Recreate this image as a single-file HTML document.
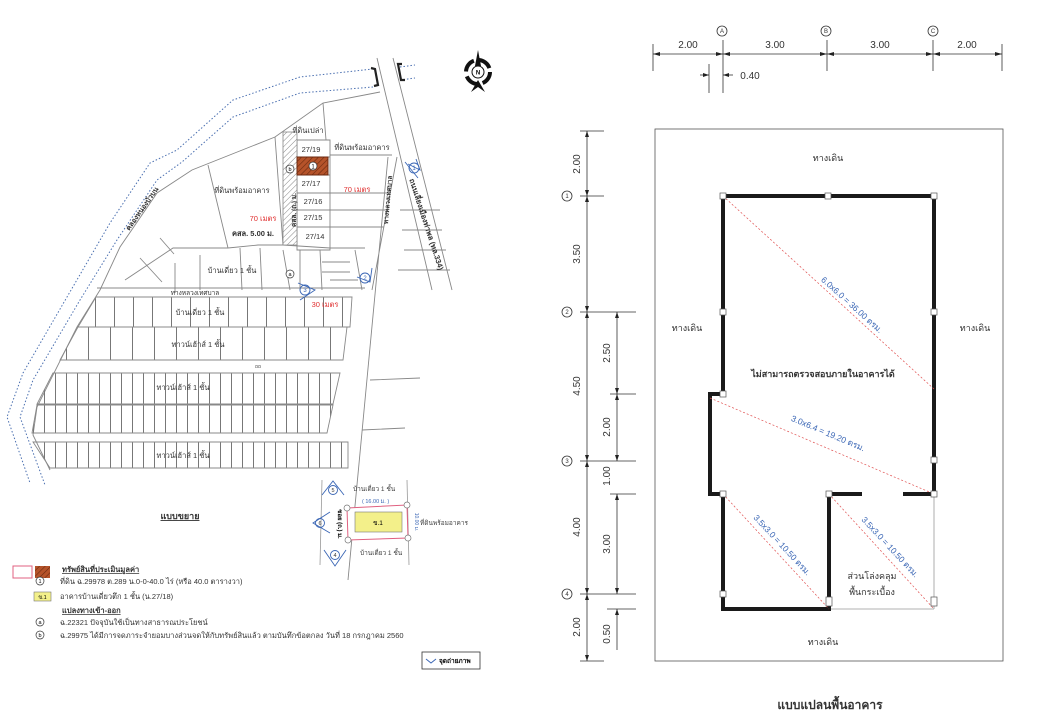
<!DOCTYPE html>
<html><head><meta charset="utf-8"><style>
html,body{margin:0;padding:0;background:#fff;}
svg{display:block;font-family:"Liberation Sans","Noto Sans CJK SC",sans-serif;}
</style></head><body>
<svg width="1040" height="720" viewBox="0 0 1040 720" xmlns="http://www.w3.org/2000/svg">
<defs>
<pattern id="v19" width="19" height="40" patternUnits="userSpaceOnUse"><line x1="0.5" y1="0" x2="0.5" y2="40" stroke="#777" stroke-width="1"/></pattern>
<pattern id="v22" width="22" height="40" patternUnits="userSpaceOnUse"><line x1="0.5" y1="0" x2="0.5" y2="40" stroke="#777" stroke-width="1"/></pattern>
<pattern id="v11" width="11" height="40" patternUnits="userSpaceOnUse"><line x1="0.5" y1="0" x2="0.5" y2="40" stroke="#777" stroke-width="1"/></pattern>
<pattern id="hatch" width="4" height="4" patternUnits="userSpaceOnUse" patternTransform="rotate(45)"><rect width="4" height="4" fill="#fff"/><line x1="0" y1="0" x2="0" y2="4" stroke="#888" stroke-width="1"/></pattern>
<pattern id="rhatch" width="4" height="4" patternUnits="userSpaceOnUse" patternTransform="rotate(45)"><rect width="4" height="4" fill="#b5532a"/><line x1="0" y1="0" x2="0" y2="4" stroke="#6b2a10" stroke-width="1.2"/></pattern>
</defs>

<!-- ============ LEFT SITE PLAN ============ -->
<g fill="none" stroke="#4a6fb0" stroke-width="1" stroke-dasharray="1.5,2">
<path d="M373,69 L300,77 L233,100 L177,150 L150,163 L110,223 L67,297 L23,373 L7,417 L30,483"/>
<path d="M373,87 L300,93 L233,117 L182,162 L157,180 L117,240 L80,300 L33,380 L20,417 L45,485"/>
<path d="M400,67 L415,65 M400,80 L415,78"/>
</g>
<g fill="none" stroke="#888" stroke-width="0.9">
<path d="M380,92 L323,103 L275,137 L192,170 L157,193 L120,247 L100,290 L77,327 L37,407 L33,435 L50,470"/>
<path d="M377,58 L432,290 M393,58 L452,290"/>
<path d="M388,157 L348,580 M397,157 L372,290"/>
<path d="M275,137 L283,245 M323,103 L326,140 M208,165 L228,248"/>
<path d="M228,248 L258,245 L283,245 L330,248 L365,248"/>
<path d="M125,280 L173,248 L228,248 M140,258 L162,282 M160,238 L174,254 M175,263 L175,293 M200,255 L200,290 M240,248 L242,290 M260,248 L262,290"/>
<path d="M297,140 L330,140 L330,250 L297,250 Z M297,157 L330,157 M297,175 L330,175 M297,193 L330,193 M297,210 L330,210 M297,227 L330,227"/>
<path d="M330,193 L388,193 M330,210 L385,210 M330,227 L384,227 M330,155 L392,155"/>
<path d="M283,250 L290,290 M300,250 L300,290 M320,250 L322,290 M322,262 L350,262 M322,272 L350,272 M330,280 L358,280 M355,250 L362,290"/>
<path d="M400,210 L440,210 M402,230 L442,230 M404,250 L446,250 M398,270 L450,270 M370,380 L420,378 M362,430 L405,428"/>
<path d="M97,288 L365,288"/>
<polygon points="96,297 352,297 350,327 78,327" fill="url(#v19)"/>
<polygon points="78,327 347,327 343,360 60,360" fill="url(#v22)"/>
<polygon points="53,373 340,373 333,404 37,404" fill="url(#v11)"/>
<polygon points="37,405 333,405 327,433 32,433" fill="url(#v11)"/>
<polygon points="33,442 348,442 348,468 50,468" fill="url(#v11)"/>
</g>
<rect x="283" y="132" width="14" height="113" fill="url(#hatch)" stroke="#888" stroke-width="0.8"/>
<rect x="297" y="157" width="31" height="18" fill="url(#rhatch)" stroke="#6b2a10"/>
<circle cx="313" cy="166" r="4" fill="#fff" stroke="#333" stroke-width="0.7"/><text x="313" y="168.5" font-size="6" text-anchor="middle">1</text>
<g fill="none" stroke="#222" stroke-width="2.2"><path d="M371,68 L375,69 L378,85 L374,86"/><path d="M402,64 L398,64 L401,80 L405,80"/></g>
<g font-size="7.5" fill="#333" text-anchor="middle">
<text x="308" y="133">ที่ดินเปล่า</text>
<text x="311" y="152">27/19</text><text x="311" y="186">27/17</text><text x="313" y="204">27/16</text><text x="313" y="220">27/15</text><text x="315" y="239">27/14</text>
<text x="362" y="150">ที่ดินพร้อมอาคาร</text><text x="242" y="193">ที่ดินพร้อมอาคาร</text>
<text x="253" y="236" font-weight="bold">คสล. 5.00 ม.</text>
<text x="232" y="273">บ้านเดี่ยว 1 ชั้น</text>
<text x="195" y="295" font-size="6.5">ทางหลวงเทศบาล</text>
<text x="200" y="315">บ้านเดี่ยว 1 ชั้น</text>
<text x="198" y="347">ทาวน์เฮ้าส์ 1 ชั้น</text>
<text x="183" y="390">ทาวน์เฮ้าส์ 1 ชั้น</text>
<text x="183" y="458">ทาวน์เฮ้าส์ 1 ชั้น</text>
<text x="258" y="368" font-size="5">ถถ</text>
</g>
<g font-size="7.5" fill="#e03030" text-anchor="middle"><text x="357" y="192">70 เมตร</text><text x="263" y="221">70 เมตร</text><text x="325" y="307">30 เมตร</text></g>
<text transform="translate(144,210) rotate(-55)" font-size="7" font-weight="bold" fill="#333" text-anchor="middle">คลองหนองบัวบน</text>
<text transform="translate(424,225) rotate(72)" font-size="7.5" font-weight="bold" fill="#333" text-anchor="middle">ถนนเลี่ยงเมืองท่าพล (ทล.334)</text>
<text transform="translate(390,200) rotate(-85)" font-size="6.5" font-weight="bold" fill="#333" text-anchor="middle">ทางหลวงเทศบาล</text>
<text transform="translate(296,210) rotate(-90)" font-size="6.5" font-weight="bold" fill="#333" text-anchor="middle">คสล. (ถ.) ม.</text>
<g fill="#fff" stroke="#333" stroke-width="0.7"><circle cx="290" cy="169" r="4"/><circle cx="290" cy="274" r="4"/></g>
<g font-size="5.5" text-anchor="middle"><text x="290" y="171">b</text><text x="290" y="276">a</text></g>
<g fill="none" stroke="#3a66b5" stroke-width="0.9">
<path d="M408,164 L420,170 L416,159 M405,162 L418,178"/><circle cx="414" cy="168" r="5"/>
<circle cx="365" cy="278" r="5"/><path d="M357,277 L370,282 L372,268"/>
<circle cx="305" cy="290" r="5"/><path d="M298,283 L315,290 L300,300"/>
</g>
<g font-size="6" fill="#3a66b5" text-anchor="middle"><text x="414" y="170">1</text><text x="365" y="280">2</text><text x="305" y="292">3</text></g>
<g transform="translate(478,72)"><circle r="12" fill="none" stroke="#111" stroke-width="4" stroke-dasharray="14,5"/><circle r="6" fill="#fff" stroke="#111"/><path d="M0,-22 L3,-6 L-3,-6 Z M-7,20 L0,8 L7,20 L0,15 Z" fill="#111"/><text y="2.5" font-size="6" text-anchor="middle" font-weight="bold">N</text></g>

<text x="180" y="519" font-size="9" font-weight="bold" fill="#333" text-anchor="middle" text-decoration="underline">แบบขยาย</text>
<g fill="none" stroke="#999" stroke-width="0.8"><line x1="322" y1="480" x2="320" y2="565"/><line x1="407" y1="480" x2="409" y2="565"/></g>
<polygon points="347,508 407,505 408,538 348,540" fill="#fff" stroke="#e06080" stroke-width="1"/>
<rect x="355" y="512" width="47" height="20" fill="#f3f08a" stroke="#777" stroke-width="0.6"/>
<text x="378" y="525" font-size="6.5" text-anchor="middle">ข.1</text>
<g fill="#fff" stroke="#777" stroke-width="0.7"><circle cx="347" cy="508" r="3"/><circle cx="407" cy="505" r="3"/><circle cx="348" cy="540" r="3"/><circle cx="408" cy="538" r="3"/></g>
<g font-size="6.5" fill="#444"><text x="353" y="491">บ้านเดี่ยว 1 ชั้น</text><text x="360" y="555">บ้านเดี่ยว 1 ชั้น</text><text x="420" y="525">ที่ดินพร้อมอาคาร</text><text x="362" y="503" fill="#3a66b5" font-size="5.5">( 16.00 ม. )</text></g>
<text transform="translate(338,524) rotate(90)" font-size="6" font-weight="bold" text-anchor="middle">ซอย (ถ.) ม.</text>
<text transform="translate(415,522) rotate(90)" font-size="5" fill="#3a66b5" text-anchor="middle">10.00 ม.</text>
<g fill="none" stroke="#3a66b5" stroke-width="0.9"><circle cx="333" cy="490" r="4.5"/><path d="M322,495 L333,481 L344,495"/><circle cx="320" cy="523" r="4.5"/><path d="M330,512 L313,523 L330,533"/><circle cx="335" cy="555" r="4.5"/><path d="M324,550 L335,566 L346,550"/></g>
<g font-size="5.5" fill="#333" text-anchor="middle"><text x="333" y="492">5</text><text x="320" y="525">6</text><text x="335" y="557">4</text></g>

<rect x="13" y="566" width="19" height="12" fill="#fff" stroke="#e06080"/>
<rect x="35" y="566" width="15" height="12" fill="url(#rhatch)"/>
<g font-size="7.5" fill="#333">
<text x="62" y="572" font-weight="bold" text-decoration="underline">ทรัพย์สินที่ประเมินมูลค่า</text>
<text x="60" y="584">ที่ดิน ฉ.29978 ต.289 น.0-0-40.0 ไร่ (หรือ 40.0 ตารางวา)</text>
<text x="60" y="599">อาคารบ้านเดี่ยวตึก 1 ชั้น (น.27/18)</text>
<text x="62" y="613" font-weight="bold" text-decoration="underline">แปลงทางเข้า-ออก</text>
<text x="60" y="625">ฉ.22321 ปัจจุบันใช้เป็นทางสาธารณประโยชน์</text>
<text x="60" y="638">ฉ.29975 ได้มีการจดภาระจำยอมบางส่วนจดให้กับทรัพย์สินแล้ว ตามบันทึกข้อตกลง วันที่ 18 กรกฎาคม 2560</text>
</g>
<g fill="#fff" stroke="#333" stroke-width="0.7"><circle cx="40" cy="581" r="4"/><circle cx="40" cy="622" r="4"/><circle cx="40" cy="635" r="4"/></g>
<g font-size="5.5" text-anchor="middle"><text x="40" y="583">1</text><text x="40" y="624">a</text><text x="40" y="637">b</text></g>
<rect x="34" y="592" width="17" height="9" fill="#f3f08a" stroke="#777" stroke-width="0.6"/><text x="42.5" y="599" font-size="5.5" text-anchor="middle">ข.1</text>
<rect x="422" y="652" width="58" height="17" fill="#fff" stroke="#333" stroke-width="0.8"/>
<path d="M426,659 L431,663 L436,659" fill="none" stroke="#3a66b5"/>
<text x="439" y="663" font-size="6.5" font-weight="bold">จุดถ่ายภาพ</text>

<!-- ============ RIGHT FLOOR PLAN ============ -->
<g stroke="#333" stroke-width="0.8" fill="none">
<line x1="653" y1="54" x2="1002" y2="54"/>
<line x1="653" y1="44" x2="653" y2="71"/><line x1="723" y1="40" x2="723" y2="93"/><line x1="827" y1="40" x2="827" y2="71"/><line x1="933" y1="40" x2="933" y2="71"/><line x1="1002" y1="44" x2="1002" y2="71"/>
<line x1="709" y1="64" x2="709" y2="93"/>
<line x1="700" y1="75" x2="709" y2="75"/><line x1="723" y1="75" x2="733" y2="75"/>
<rect x="655" y="129" width="348" height="532" stroke="#555"/>
<line x1="587" y1="131" x2="587" y2="661"/>
<line x1="580" y1="131" x2="604" y2="131"/><line x1="580" y1="196" x2="604" y2="196"/><line x1="580" y1="312" x2="636" y2="312"/><line x1="580" y1="461" x2="636" y2="461"/><line x1="580" y1="594" x2="636" y2="594"/><line x1="580" y1="661" x2="604" y2="661"/>
<line x1="617" y1="312" x2="617" y2="461"/><line x1="610" y1="394" x2="636" y2="394"/>
<line x1="617" y1="494" x2="617" y2="594"/><line x1="610" y1="494" x2="636" y2="494"/>
<line x1="617" y1="609" x2="617" y2="650"/><line x1="607" y1="609" x2="636" y2="609"/>
</g>
<g fill="#222">
<path d="M653,54 l7,-2 v4z M723,54 l-7,-2 v4z M723,54 l7,-2 v4z M827,54 l-7,-2 v4z M827,54 l7,-2 v4z M933,54 l-7,-2 v4z M933,54 l7,-2 v4z M1002,54 l-7,-2 v4z"/>
<path d="M709,75 l-6,-2 v4z M723,75 l6,-2 v4z"/>
<path d="M587,131 l-2,6 h4z M587,196 l-2,-6 h4z M587,196 l-2,6 h4z M587,312 l-2,-6 h4z M587,312 l-2,6 h4z M587,461 l-2,-6 h4z M587,461 l-2,6 h4z M587,594 l-2,-6 h4z M587,594 l-2,6 h4z M587,661 l-2,-6 h4z"/>
<path d="M617,312 l-2,6 h4z M617,394 l-2,-6 h4z M617,394 l-2,6 h4z M617,461 l-2,-6 h4z M617,494 l-2,6 h4z M617,594 l-2,-6 h4z M617,609 l-2,6 h4z"/>
</g>
<g font-size="10" fill="#333" text-anchor="middle">
<text x="688" y="48">2.00</text><text x="775" y="48">3.00</text><text x="880" y="48">3.00</text><text x="967" y="48">2.00</text>
<text x="750" y="79">0.40</text>
</g>
<g fill="#fff" stroke="#333" stroke-width="0.8"><circle cx="722" cy="31" r="5"/><circle cx="826" cy="31" r="5"/><circle cx="933" cy="31" r="5"/><circle cx="567" cy="196" r="5"/><circle cx="567" cy="312" r="5"/><circle cx="567" cy="461" r="5"/><circle cx="567" cy="594" r="5"/></g>
<g font-size="6" fill="#333" text-anchor="middle"><text x="722" y="33">A</text><text x="826" y="33">B</text><text x="933" y="33">C</text><text x="567" y="198">1</text><text x="567" y="314">2</text><text x="567" y="463">3</text><text x="567" y="596">4</text></g>
<g font-size="10" fill="#333" text-anchor="middle">
<text transform="translate(580,164) rotate(-90)">2.00</text>
<text transform="translate(580,254) rotate(-90)">3.50</text>
<text transform="translate(580,386) rotate(-90)">4.50</text>
<text transform="translate(580,527) rotate(-90)">4.00</text>
<text transform="translate(580,627) rotate(-90)">2.00</text>
<text transform="translate(610,353) rotate(-90)">2.50</text>
<text transform="translate(610,427) rotate(-90)">2.00</text>
<text transform="translate(610,476) rotate(-90)">1.00</text>
<text transform="translate(610,544) rotate(-90)">3.00</text>
<text transform="translate(610,634) rotate(-90)">0.50</text>
</g>
<g stroke="#999" stroke-width="0.8"><line x1="934" y1="494" x2="934" y2="609"/><line x1="829" y1="609" x2="934" y2="609"/></g>
<g stroke="#1a1a1a" stroke-width="4" fill="none" stroke-linecap="square">
<path d="M723,196 L934,196 L934,494 L905,494"/>
<path d="M723,196 L723,394 L710,394 L710,494 L723,494 L723,609 L829,609 L829,494 L860,494"/>
</g>
<g stroke="#e05050" stroke-width="0.7" stroke-dasharray="2,2"><line x1="723" y1="196" x2="934" y2="389"/><line x1="710" y1="398" x2="934" y2="494"/><line x1="723" y1="494" x2="829" y2="609"/><line x1="829" y1="494" x2="934" y2="609"/></g>
<g fill="#fff" stroke="#555" stroke-width="0.7">
<rect x="720" y="193" width="6" height="6"/><rect x="825" y="193" width="6" height="6"/><rect x="931" y="193" width="6" height="6"/>
<rect x="720" y="309" width="6" height="6"/><rect x="931" y="309" width="6" height="6"/><rect x="720" y="391" width="6" height="6"/>
<rect x="720" y="491" width="6" height="6"/><rect x="826" y="491" width="6" height="6"/><rect x="931" y="491" width="6" height="6"/><rect x="931" y="457" width="6" height="6"/>
<rect x="720" y="591" width="6" height="6"/><rect x="826" y="597" width="6" height="9"/><rect x="931" y="597" width="6" height="9"/>
</g>
<g font-size="8.5" fill="#3a66b5" text-anchor="middle">
<text transform="translate(850,307) rotate(42)">6.0x6.0 = 36.00 ตรม.</text>
<text transform="translate(827,436) rotate(23)">3.0x6.4 = 19.20 ตรม.</text>
<text transform="translate(780,547) rotate(47)">3.5x3.0 = 10.50 ตรม.</text>
<text transform="translate(888,549) rotate(47)">3.5x3.0 = 10.50 ตรม.</text>
</g>
<g font-size="9" fill="#333" text-anchor="middle">
<text x="828" y="161">ทางเดิน</text><text x="687" y="331">ทางเดิน</text><text x="975" y="331">ทางเดิน</text><text x="823" y="645">ทางเดิน</text>
<text x="823" y="377" font-weight="bold">ไม่สามารถตรวจสอบภายในอาคารได้</text>
<text x="872" y="579">ส่วนโล่งคลุม</text><text x="872" y="595">พื้นกระเบื้อง</text>
<text x="830" y="709" font-size="12" font-weight="bold">แบบแปลนพื้นอาคาร</text>
</g>
</svg>
</body></html>
